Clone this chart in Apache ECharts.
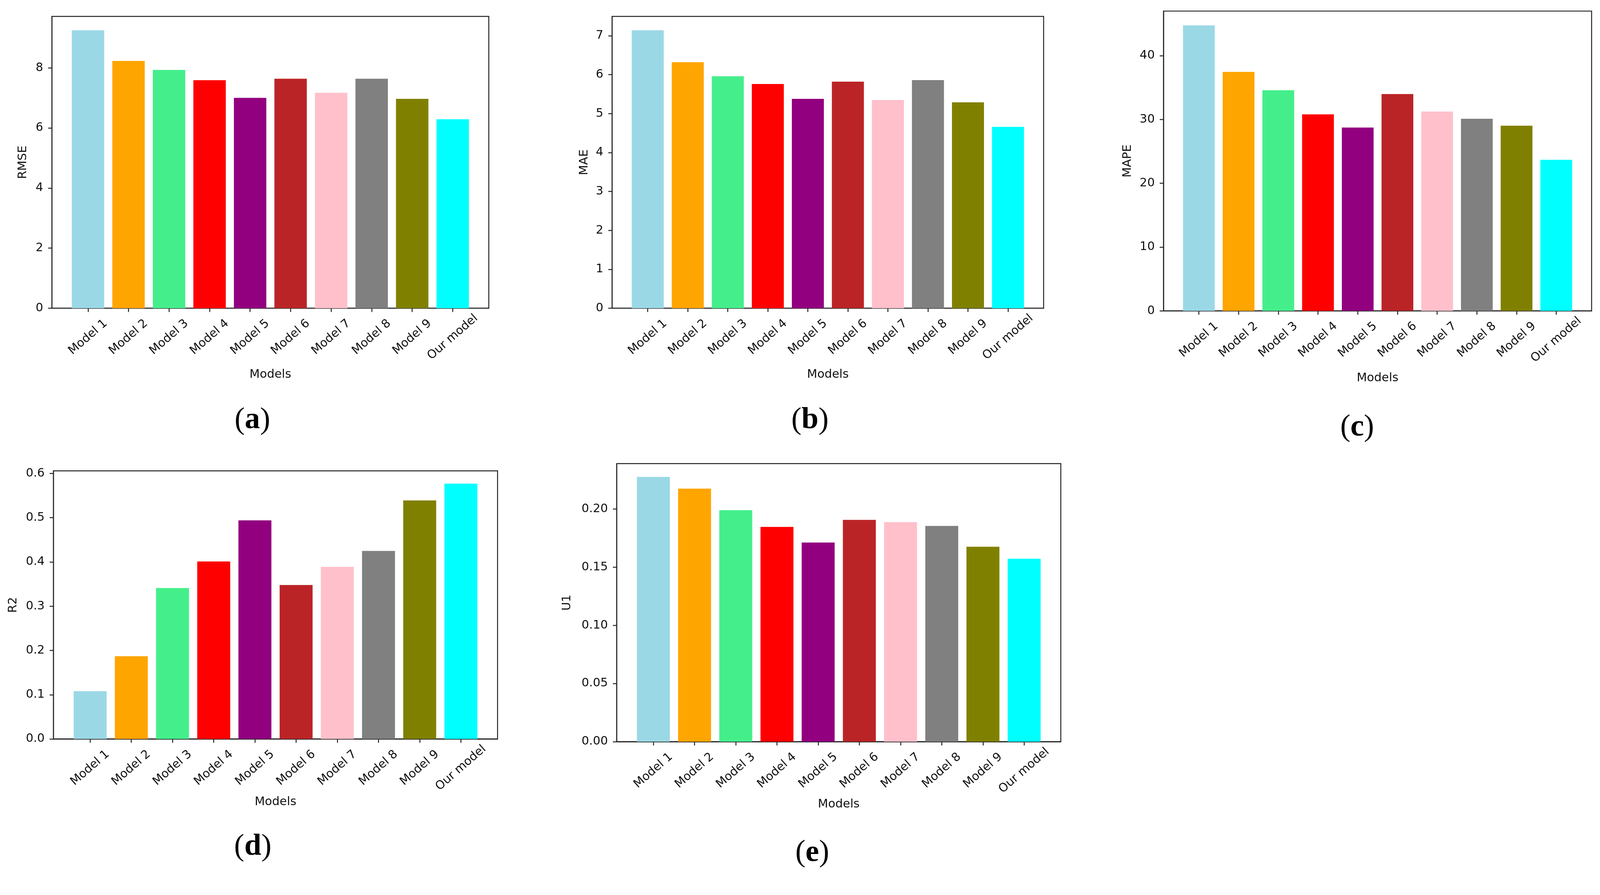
<!DOCTYPE html>
<html>
<head>
<meta charset="utf-8">
<title>Model comparison</title>
<script src="https://cdn.jsdelivr.net/npm/echarts@6.0.0/dist/echarts.min.js"></script>
<style>
  html, body { margin: 0; padding: 0; background: #fff; overflow: hidden; }
  #chart { width: 100vw; height: 100vh; }
</style>
</head>
<body>
<div id="chart"></div>
<script>
var models = ['Model 1', 'Model 2', 'Model 3', 'Model 4', 'Model 5', 'Model 6', 'Model 7', 'Model 8', 'Model 9', 'Our model'];
var barColors = ['#9BD8E6', '#FFA500', '#44EF8B', '#FF0000', '#92007F', '#BB2427', '#FFC0CB', '#808080', '#808000', '#00FFFF'];

var rmse = [9.25, 8.23, 7.93, 7.59, 7.00, 7.64, 7.17, 7.64, 6.97, 6.29];
var mae = [7.14, 6.32, 5.96, 5.76, 5.38, 5.82, 5.35, 5.86, 5.29, 4.66];
var mape = [44.74, 37.45, 34.57, 30.79, 28.73, 33.98, 31.24, 30.10, 29.01, 23.67];
var r2 = [0.108, 0.187, 0.341, 0.401, 0.494, 0.348, 0.389, 0.425, 0.539, 0.577];
var u1 = [0.2277, 0.2176, 0.1990, 0.1847, 0.1712, 0.1907, 0.1888, 0.1855, 0.1676, 0.1573];

var rmseTicks = [0, 2, 4, 6, 8];
var maeTicks = [0, 1, 2, 3, 4, 5, 6, 7];
var mapeTicks = [0, 10, 20, 30, 40];
var r2Ticks = [0, 0.1, 0.2, 0.3, 0.4, 0.5, 0.6];
var u1Ticks = [0, 0.05, 0.10, 0.15, 0.20];

// layout was measured on a 4190 x 2291 canvas; scale to the real viewport
var s = Math.min(window.innerWidth / 4190, window.innerHeight / 2291);
function px(v) { return v * s; }

var font = 'DejaVu Sans';
var fs = px(31);
var ink = '#111';
var spine = '#222';
var lw = px(2.5);

// one entry per subplot: box in px, y label, data, ticks
var panels = [
  { tag: 'a', box: [136, 43, 1144, 764], name: 'RMSE', data: rmse, ticks: rmseTicks, dec: 0, gap: 60, xGap: 159, lx: 661, ly: 1101 },
  { tag: 'b', box: [1603, 43, 1130, 764], name: 'MAE', data: mae, ticks: maeTicks, dec: 0, gap: 57, xGap: 159, lx: 2121, ly: 1101 },
  { tag: 'c', box: [3047, 29, 1121, 785], name: 'MAPE', data: mape, ticks: mapeTicks, dec: 0, gap: 78, xGap: 161, lx: 3554, ly: 1120 },
  { tag: 'd', box: [140, 1233, 1163, 702], name: 'R2', data: r2, ticks: r2Ticks, dec: 1, gap: 90, xGap: 150, lx: 662, ly: 2218 },
  { tag: 'e', box: [1615, 1214, 1163, 728], name: 'U1', data: u1, ticks: u1Ticks, dec: 2, gap: 114, xGap: 149, lx: 2127, ly: 2234 }
];

var xTickPos = models.map(function (m, i) { return i; });

var grids = [], xAxes = [], yAxes = [], series = [], labels = [];

panels.forEach(function (p, k) {
  grids.push({
    left: px(p.box[0]), top: px(p.box[1]), width: px(p.box[2]), height: px(p.box[3]),
    show: true, borderColor: spine, borderWidth: lw, backgroundColor: 'transparent',
    containLabel: false
  });
  xAxes.push({
    gridIndex: k,
    type: 'value',
    min: -0.89,
    max: 9.89,
    name: 'Models',
    nameLocation: 'middle',
    nameGap: px(p.xGap),
    nameTextStyle: { fontFamily: font, fontSize: fs, color: ink },
    splitLine: { show: false },
    axisLine: { show: true, onZero: false, lineStyle: { color: spine, width: lw } },
    axisTick: { show: true, length: px(10), customValues: xTickPos, lineStyle: { color: spine, width: lw } },
    axisLabel: {
      customValues: xTickPos,
      rotate: 41,
      align: 'center',
      verticalAlign: 'middle',
      margin: px(76),
      fontFamily: font,
      fontSize: fs,
      color: ink,
      formatter: function (v) { return models[Math.round(v)]; }
    }
  });
  yAxes.push({
    gridIndex: k,
    type: 'value',
    min: 0,
    max: Math.max.apply(null, p.data) * 1.05,
    name: p.name,
    nameLocation: 'middle',
    nameGap: px(p.gap),
    nameTextStyle: { fontFamily: font, fontSize: fs, color: ink },
    splitLine: { show: false },
    axisLine: { show: true, onZero: false, lineStyle: { color: spine, width: lw } },
    axisTick: { show: true, length: px(10), customValues: p.ticks, lineStyle: { color: spine, width: lw } },
    axisLabel: {
      customValues: p.ticks,
      margin: px(23),
      fontFamily: font,
      fontSize: fs,
      color: ink,
      formatter: function (v) { return v.toFixed(p.dec); }
    }
  });
  series.push({
    type: 'bar',
    xAxisIndex: k,
    yAxisIndex: k,
    barWidth: '80%',
    data: p.data.map(function (v, i) {
      return { value: [i, v], itemStyle: { color: barColors[i] } };
    })
  });
  labels.push({
    type: 'text',
    x: px(p.lx),
    y: px(p.ly),
    style: {
      text: '{p|(}{l|' + p.tag + '}{p|)}',
      textAlign: 'center',
      textVerticalAlign: 'middle',
      fill: '#000',
      rich: {
        p: { fontFamily: 'Liberation Serif', fontSize: px(80), fontWeight: 'normal', fill: '#000' },
        l: { fontFamily: 'Liberation Serif', fontSize: px(80), fontWeight: 'bold', fill: '#000' }
      }
    }
  });
});

var chart = echarts.init(document.getElementById('chart'));
var option = {
  animation: false,
  backgroundColor: '#fff',
  grid: grids,
  xAxis: xAxes,
  yAxis: yAxes,
  series: series,
  graphic: labels
};
chart.setOption(option, true);
</script>
</body>
</html>
